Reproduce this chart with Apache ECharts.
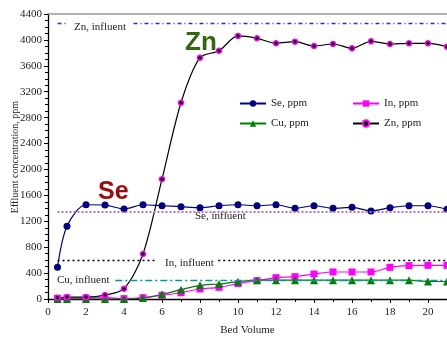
<!DOCTYPE html>
<html><head><meta charset="utf-8">
<script src="https://cdn.jsdelivr.net/npm/echarts@6/dist/echarts.min.js"></script>
<style>html,body{margin:0;padding:0;background:#fff}#c{width:447px;height:338px}</style>
</head><body><div id="c"></div>
<script>
var bedVolume = [0.5, 1, 2, 3, 4, 5, 6, 7, 8, 9, 10, 11, 12, 13, 14, 15, 16, 17, 18, 19, 20, 21];
var seValues = [490, 1125, 1455, 1450, 1390, 1455, 1440, 1425, 1410, 1440, 1455, 1440, 1455, 1400, 1440, 1400, 1415, 1360, 1410, 1440, 1440, 1385];
var inValues = [10, 15, 15, 20, 5, 20, 57, 97, 154, 180, 237, 283, 330, 345, 386, 417, 417, 417, 489, 515, 520, 520];
var cuValues = [0, 0, 0, 0, 0, 15, 72, 144, 211, 232, 268, 290, 290, 290, 290, 290, 290, 290, 290, 290, 270, 270];
var znValues = [20, 30, 30, 60, 160, 695, 1850, 3030, 3726, 3832, 4062, 4025, 3948, 3973, 3906, 3937, 3870, 3978, 3937, 3947, 3947, 3896];
var influent = { se: 1340, inn: 600, cu: 290, zn: 4250 };
var yTicks = { min: 0, max: 4400, interval: 400 };
var xTicks = { min: 0, max: 21, interval: 2 };

function pairs(v){ return bedVolume.map(function(x,i){ return [x, v[i]]; }); }
var serif = '"Liberation Serif","DejaVu Serif",serif';
var chart = echarts.init(document.getElementById('c'));
function ml(color, type, segs, width){
  return { silent: true, symbol: 'none', label: {show: false},
    lineStyle: {color: color, type: type, width: width || 1.2},
    data: segs.map(function(s){ return [{coord: [s[0], s[2]]}, {coord: [s[1], s[2]]}]; }) };
}
chart.setOption({
  animation: false,
  grid: { left: 48, right: 0, top: 14, bottom: 39, containLabel: false, outerBoundsMode: 'none' },
  legend: [
    { data: ['Se, ppm', 'Cu, ppm'], orient: 'vertical', left: 234, top: 93, itemGap: 9, itemWidth: 26, itemHeight: 8,
      textStyle: { fontFamily: serif, fontSize: 11, color: '#222' } },
    { data: ['In, ppm', 'Zn, ppm'], orient: 'vertical', left: 347, top: 93, itemGap: 9, itemWidth: 26, itemHeight: 8,
      textStyle: { fontFamily: serif, fontSize: 11, color: '#222' } }
  ],
  xAxis: [{
    type: 'value', min: xTicks.min, max: xTicks.max, interval: xTicks.interval,
    name: 'Bed Volume', nameLocation: 'middle', nameGap: 26,
    nameTextStyle: { fontFamily: serif, fontSize: 11, color: '#222' },
    axisLine: { lineStyle: { color: '#000', width: 1.3 } },
    axisTick: { length: 4, lineStyle: { color: '#000' } },
    minorTick: { show: true, splitNumber: 2, length: 3, lineStyle: { color: '#000' } },
    axisLabel: { fontFamily: serif, fontSize: 11, color: '#222', margin: 8, showMaxLabel: false },
    splitLine: { show: false }
  }, {
    type: 'value', position: 'top', min: xTicks.min, max: xTicks.max,
    axisLine: { show: true, lineStyle: { color: '#999', width: 1.5 } },
    axisTick: { show: false }, axisLabel: { show: false }, splitLine: { show: false }
  }],
  yAxis: {
    type: 'value', min: yTicks.min, max: yTicks.max, interval: yTicks.interval,
    axisLine: { show: true, lineStyle: { color: '#000', width: 1.3 } },
    axisTick: { show: true, length: 4, lineStyle: { color: '#000' } },
    minorTick: { show: true, splitNumber: 4, length: 3, lineStyle: { color: '#000' } },
    axisLabel: { fontFamily: serif, fontSize: 11, color: '#222', margin: 6, formatter: function(v){ return String(v); } },
    splitLine: { show: false }
  },
  series: [
    { name: 'Se, ppm', type: 'line', data: pairs(seValues), smooth: 0.3,
      symbol: 'circle', symbolSize: 7, lineStyle: { color: '#000080', width: 1.2 },
      itemStyle: { color: '#000080' },
      markLine: ml('#c070c0', 'dotted', [[0.5, 21, influent.se]], 2) },
    { name: 'In, ppm', type: 'line', data: pairs(inValues), smooth: 0.3,
      symbol: 'rect', symbolSize: 7, lineStyle: { color: '#ff00ff', width: 1.2 },
      itemStyle: { color: '#ff00ff' },
      markLine: ml('#000', [2, 3], [[0.5, 5.65, influent.inn], [8.96, 21, influent.inn]], 1.3) },
    { name: 'Cu, ppm', type: 'line', data: pairs(cuValues), smooth: 0.3,
      symbol: 'triangle', symbolSize: 8, lineStyle: { color: '#008000', width: 1.2 },
      itemStyle: { color: '#008000' },
      markLine: ml('#009999', [7, 3, 2, 3], [[3.54, 21, influent.cu]], 1.3) },
    { name: 'Zn, ppm', type: 'line', data: pairs(znValues), smooth: 0.3,
      symbol: 'circle', symbolSize: 5, lineStyle: { color: '#000', width: 1.2 },
      itemStyle: { color: '#000', borderColor: '#ff00ff', borderWidth: 1.5 },
      markLine: ml('#2a2aff', [4, 3, 1, 3], [[0.5, 1.07, influent.zn], [4.5, 21, influent.zn]], 1.3) }
  ],
  graphic: [
    { type: 'text', x: 15, y: 157, rotation: Math.PI / 2, z: 10,
      style: { text: 'Effluent concentration, ppm', font: '10px ' + serif, fill: '#222', align: 'center', verticalAlign: 'middle' } },
    { type: 'text', left: 74, top: 22, style: { text: 'Zn, influent', font: '11px ' + serif, fill: '#222' } },
    { type: 'text', left: 195, top: 211, style: { text: 'Se, influent', font: '11px ' + serif, fill: '#222' } },
    { type: 'text', left: 165, top: 258, style: { text: 'In, influent', font: '11px ' + serif, fill: '#222' } },
    { type: 'text', left: 57, top: 275, style: { text: 'Cu, influent', font: '11px ' + serif, fill: '#222' } },
    { type: 'text', left: 98, top: 180, style: { text: 'Se', font: 'bold 25px "Liberation Sans",Arial,sans-serif', fill: '#9c0a0a' } },
    { type: 'text', left: 185, top: 30, style: { text: 'Zn', font: 'bold 26px "Liberation Sans",Arial,sans-serif', fill: '#336611' } }
  ]
});
</script></body></html>
